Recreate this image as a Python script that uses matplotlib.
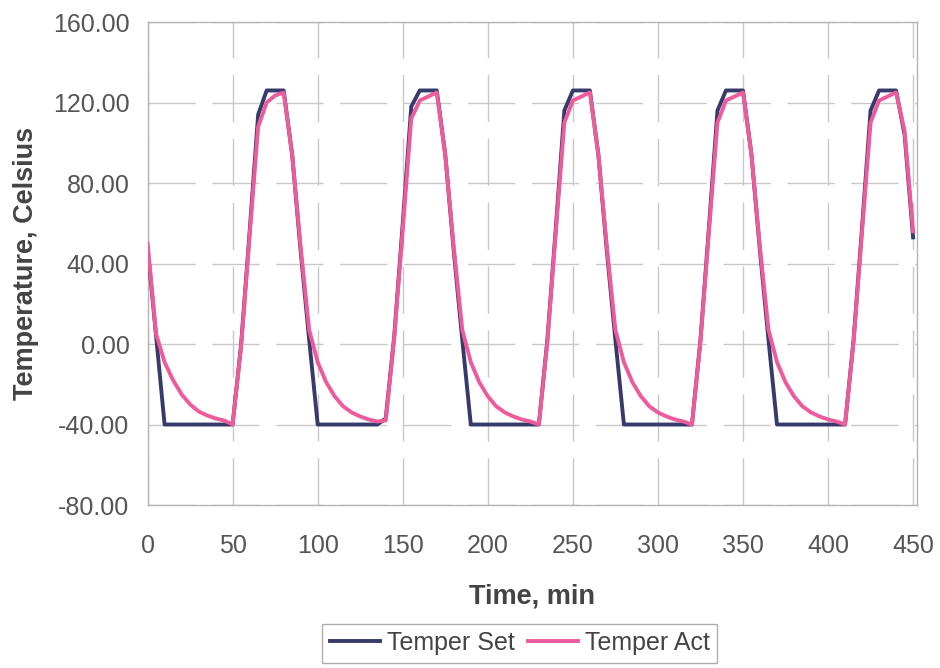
import matplotlib
matplotlib.use("Agg")
import matplotlib.pyplot as plt

plt.rcParams['font.family'] = ['Liberation Sans', 'DejaVu Sans']
plt.rcParams['axes.unicode_minus'] = False

# time in minutes, sampled every 5 min
time_min = list(range(0, 455, 5))

temper_set = [
    48, 4, -40, -40, -40, -40, -40, -40, -40, -40,
    -40, 0, 56, 114, 126, 126, 126, 94, 46, 2,
    -40, -40, -40, -40, -40, -40, -40, -40, -37, 4,
    60, 118, 126, 126, 126, 94, 46, 2, -40, -40,
    -40, -40, -40, -40, -40, -40, -40, 2, 58, 116,
    126, 126, 126, 94, 46, 2, -40, -40, -40, -40,
    -40, -40, -40, -40, -40, 2, 58, 116, 126, 126,
    126, 94, 46, 2, -40, -40, -40, -40, -40, -40,
    -40, -40, -40, 2, 58, 116, 126, 126, 126, 104,
    53,
]

temper_act = [
    50, 5, -9, -18, -25, -30, -33.5, -35.5, -37, -38,
    -40, -1, 54, 108, 120, 123.5, 125, 94, 48, 7,
    -9, -19, -26, -31, -34, -36, -37.5, -38.5, -38, 3,
    57, 112, 121, 123, 125, 94, 48, 7, -9, -19,
    -26, -31, -34, -36, -37.5, -38.5, -40, 1, 56, 110,
    121, 123, 125, 94, 48, 7, -9, -19, -26, -31,
    -34, -36, -37.5, -38.5, -40, 1, 56, 110, 121, 123,
    125, 94, 48, 7, -9, -19, -26, -31, -34, -36,
    -37.5, -38.5, -40, 1, 56, 110, 121, 123, 125, 106,
    56,
]

x_ticks = list(range(0, 500, 50))
y_ticks = [-80, -40, 0, 40, 80, 120, 160]

fig = plt.figure(figsize=(9.4, 6.68), dpi=100)
ax = fig.add_axes([0.157, 0.244, 0.818, 0.723])

ax.plot(time_min, temper_set, color='#363b6c', lw=2.8, label='Temper Set', zorder=3)
ax.plot(time_min, temper_act, color='#ee5b9d', lw=2.8, label='Temper Act', zorder=4)

ax.set_xlim(0, 452)
ax.set_ylim(-80, 160)
ax.set_xticks(x_ticks)
ax.set_yticks(y_ticks)
ax.set_yticklabels(['%.2f' % v for v in y_ticks])

ax.grid(True, color='#c8c8c8', lw=1, linestyle=(0, (34, 12)))
ax.set_axisbelow(True)
for s in ax.spines.values():
    s.set_color('#b4b4b4')
    s.set_linewidth(1)

ax.tick_params(length=0, labelsize=18, labelcolor='#555555')
ax.tick_params(axis='y', pad=13)
ax.tick_params(axis='x', pad=21)

ax.set_xlabel('Time, min', fontsize=19.5, fontweight='bold', color='#444444', labelpad=18)
ax.set_ylabel('Temperature, Celsius', fontsize=19.5, fontweight='bold', color='#444444', labelpad=10)

leg = fig.legend(loc='center', bbox_to_anchor=(0.553, 1 - 643 / 668), ncol=2,
                 fontsize=18, frameon=True, fancybox=False, handlelength=2.0,
                 handletextpad=0.3, columnspacing=0.5, borderpad=0.3)
leg.get_frame().set_edgecolor('#999999')
leg.get_frame().set_linewidth(1)
for txt in leg.get_texts():
    txt.set_color('#444444')

fig.savefig('out.png', dpi=100)
